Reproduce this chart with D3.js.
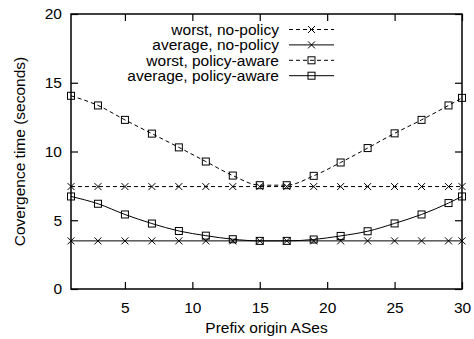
<!DOCTYPE html>
<html>
<head>
<meta charset="utf-8">
<script src="https://cdn.jsdelivr.net/npm/d3@7"></script>
<style>
body { margin: 0; background: #fff; }
text { font-family: "Liberation Sans", Arial, Helvetica, sans-serif; }
</style>
</head>
<body>
<svg id="chart" width="474" height="339"></svg>
<script>
// x positions where points are marked
var xs = [1, 3, 5, 7, 9, 11, 13, 15, 17, 19, 21, 23, 25, 27, 29, 30];
var worstNoPolicy = [7.45, 7.45, 7.45, 7.45, 7.45, 7.45, 7.45, 7.45, 7.45, 7.45, 7.45, 7.45, 7.45, 7.45, 7.45, 7.45];
var avgNoPolicy = [3.5, 3.5, 3.5, 3.5, 3.5, 3.5, 3.5, 3.5, 3.5, 3.5, 3.5, 3.5, 3.5, 3.5, 3.5, 3.5];
var worstPolicy = [14.05, 13.35, 12.3, 11.3, 10.3, 9.27, 8.25, 7.55, 7.55, 8.23, 9.2, 10.25, 11.32, 12.3, 13.35, 13.9];
var avgPolicy = [6.73, 6.2, 5.42, 4.76, 4.22, 3.88, 3.62, 3.5, 3.5, 3.6, 3.86, 4.2, 4.77, 5.42, 6.25, 6.73];

var xTicks = [5, 10, 15, 20, 25, 30];
var yTicks = [0, 5, 10, 15, 20];

var series = [
    { name: "worst, no-policy", values: worstNoPolicy, dash: "4,3", marker: "cross" },
    { name: "average, no-policy", values: avgNoPolicy, dash: null, marker: "cross" },
    { name: "worst, policy-aware", values: worstPolicy, dash: "4,3", marker: "square" },
    { name: "average, policy-aware", values: avgPolicy, dash: null, marker: "square" }
];

var margin = { left: 71, top: 14, right: 12, bottom: 50 };
var width = 474, height = 339;
var fs = 15.5;
var svg = d3.select("#chart");

var x = d3.scaleLinear().domain([1, 30]).range([margin.left, width - margin.right]);
var y = d3.scaleLinear().domain([0, 20]).range([height - margin.bottom, margin.top]);

var tick = 7;

// axes, ticks pointing inward
svg.append("g")
    .attr("transform", "translate(0," + y(0) + ")")
    .call(d3.axisBottom(x).tickValues(xTicks).tickSizeInner(-tick).tickSizeOuter(0).tickPadding(13));
svg.append("g")
    .attr("transform", "translate(0," + y(20) + ")")
    .call(d3.axisTop(x).tickValues(xTicks).tickSizeInner(-tick).tickSizeOuter(0).tickFormat(""));
svg.append("g")
    .attr("transform", "translate(" + x(1) + ",0)")
    .call(d3.axisLeft(y).tickValues(yTicks).tickSizeInner(-tick).tickSizeOuter(0).tickPadding(9));
svg.append("g")
    .attr("transform", "translate(" + x(30) + ",0)")
    .call(d3.axisRight(y).tickValues(yTicks).tickSizeInner(-tick).tickSizeOuter(0).tickFormat(""));

svg.selectAll(".domain").remove();
svg.selectAll(".tick line").attr("stroke", "#000").attr("stroke-width", 1.2);
svg.selectAll(".tick text").attr("font-size", fs).attr("fill", "#000")
    .style("font-family", "'Liberation Sans', Arial, sans-serif");

svg.append("rect")
    .attr("x", x(1)).attr("y", y(20))
    .attr("width", x(30) - x(1)).attr("height", y(0) - y(20))
    .attr("fill", "none").attr("stroke", "#000").attr("stroke-width", 1.5);

function drawMarker(g, type, cx, cy) {
    if (type === "cross") {
        g.append("path")
            .attr("d", "M" + (cx - 3.5) + "," + (cy - 3.5) + "L" + (cx + 3.5) + "," + (cy + 3.5) +
                "M" + (cx - 3.5) + "," + (cy + 3.5) + "L" + (cx + 3.5) + "," + (cy - 3.5))
            .attr("stroke", "#000").attr("stroke-width", 1).attr("fill", "none");
    } else {
        g.append("rect")
            .attr("x", cx - 3.5).attr("y", cy - 3.5).attr("width", 7).attr("height", 7)
            .attr("stroke", "#000").attr("stroke-width", 1).attr("fill", "none");
    }
}

var line = d3.line()
    .curve(d3.curveMonotoneX)
    .x(function (d) { return x(d[0]); })
    .y(function (d) { return y(d[1]); });

series.forEach(function (s) {
    var pts = xs.map(function (v, i) { return [v, s.values[i]]; });
    var g = svg.append("g");
    g.append("path")
        .attr("d", line(pts))
        .attr("fill", "none").attr("stroke", "#000").attr("stroke-width", 1)
        .attr("stroke-dasharray", s.dash);
    pts.forEach(function (p) { drawMarker(g, s.marker, x(p[0]), y(p[1])); });
});

// legend
var legX = 279, legY = 29.5, legStep = 15.4;
series.forEach(function (s, i) {
    var cy = legY + i * legStep;
    var g = svg.append("g");
    g.append("text")
        .attr("x", legX).attr("y", cy).attr("dy", "0.35em")
        .attr("text-anchor", "end").attr("font-size", fs).attr("fill", "#000")
        .text(s.name);
    g.append("line")
        .attr("x1", 289).attr("x2", 334).attr("y1", cy).attr("y2", cy)
        .attr("stroke", "#000").attr("stroke-width", 1)
        .attr("stroke-dasharray", s.dash);
    drawMarker(g, s.marker, 311.5, cy);
});

// axis titles
svg.append("text")
    .attr("x", (x(1) + x(30)) / 2).attr("y", 332.5)
    .attr("text-anchor", "middle").attr("font-size", fs).attr("fill", "#000")
    .text("Prefix origin ASes");
svg.append("text")
    .attr("transform", "translate(25," + ((y(0) + y(20)) / 2) + ") rotate(-90)")
    .attr("text-anchor", "middle").attr("font-size", fs).attr("fill", "#000")
    .text("Covergence time (seconds)");
</script>
</body>
</html>
